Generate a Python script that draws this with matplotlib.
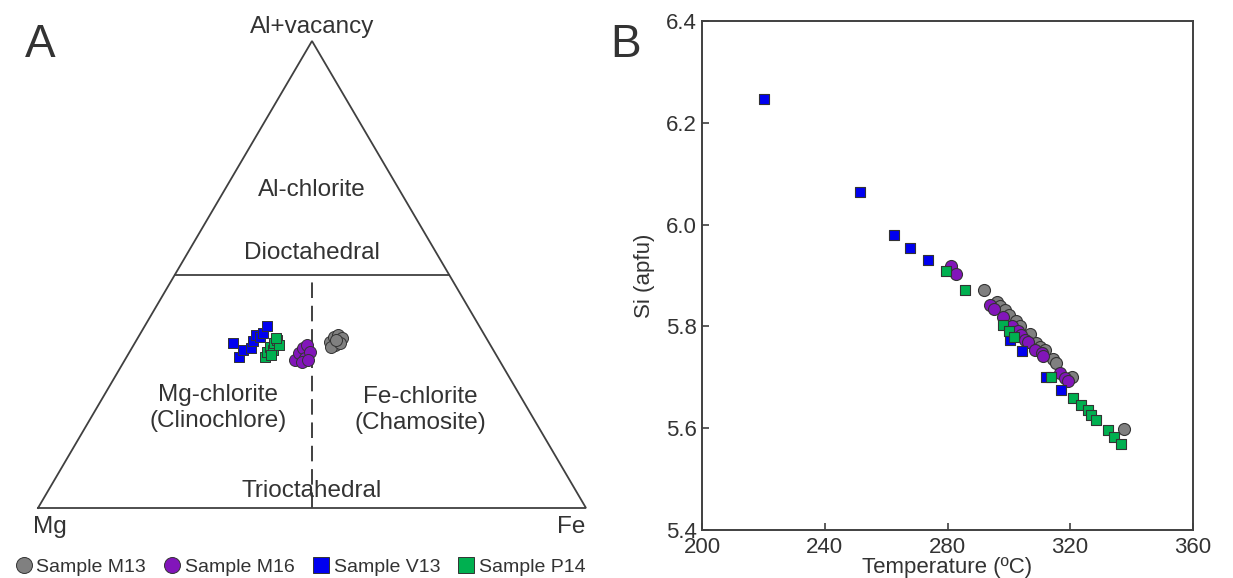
import matplotlib
matplotlib.use('Agg')
import matplotlib.pyplot as plt
from matplotlib.lines import Line2D

plt.rcParams['font.family'] = ['Liberation Sans', 'DejaVu Sans']

# ---------------- Panel A: ternary data (fractions Al+vacancy, Fe; Mg = 1 - Al - Fe)
m13_al = [0.356, 0.367, 0.370, 0.363, 0.349, 0.345, 0.353, 0.360]
m13_fe = [0.355, 0.356, 0.363, 0.373, 0.368, 0.363, 0.374, 0.364]
m16_al = [0.317, 0.331, 0.342, 0.349, 0.321, 0.335, 0.313, 0.317]
m16_fe = [0.311, 0.311, 0.313, 0.316, 0.327, 0.328, 0.325, 0.335]
v13_al = [0.353, 0.323, 0.338, 0.343, 0.358, 0.370, 0.367, 0.374, 0.389]
v13_fe = [0.179, 0.206, 0.205, 0.218, 0.214, 0.213, 0.222, 0.224, 0.223]
p14_al = [0.323, 0.333, 0.345, 0.339, 0.354, 0.360, 0.350, 0.328, 0.364]
p14_fe = [0.252, 0.252, 0.251, 0.259, 0.254, 0.257, 0.265, 0.262, 0.252]

# ---------------- Panel B: temperature (ºC) vs Si (apfu)
m13_t = [291.8, 296.0, 297.1, 298.7, 300.1, 302.5, 303.8, 306.8, 309.0, 310.3, 311.7, 314.4, 315.5, 320.7, 337.7]
m13_si = [5.871, 5.847, 5.840, 5.833, 5.823, 5.810, 5.801, 5.785, 5.768, 5.760, 5.753, 5.736, 5.729, 5.700, 5.599]
m16_t = [281.3, 282.9, 293.8, 295.1, 298.1, 300.9, 303.0, 304.1, 305.2, 306.3, 308.5, 310.7, 311.2, 316.6, 318.3, 319.3]
m16_si = [5.918, 5.903, 5.842, 5.834, 5.819, 5.801, 5.790, 5.783, 5.774, 5.770, 5.754, 5.747, 5.741, 5.708, 5.698, 5.692]
v13_t = [220.1, 251.4, 262.5, 267.8, 273.6, 300.3, 304.4, 312.3, 316.9]
v13_si = [6.247, 6.065, 5.980, 5.955, 5.931, 5.774, 5.751, 5.701, 5.675]
p14_t = [279.4, 285.7, 298.1, 300.1, 301.6, 313.9, 321.0, 323.7, 325.8, 326.8, 328.6, 332.4, 334.2, 336.7]
p14_si = [5.909, 5.872, 5.803, 5.790, 5.780, 5.700, 5.660, 5.646, 5.635, 5.625, 5.616, 5.596, 5.583, 5.569]

labels = ['Sample M13', 'Sample M16', 'Sample V13', 'Sample P14']
colors = ['#808080', '#8215BA', '#0000F0', '#00B050']
markers = ['o', 'o', 's', 's']
TXT = '#333333'
LINE = '#404040'

W, H = 1233, 578
fig = plt.figure(figsize=(W / 100, H / 100), dpi=100)

# ---------------- Panel A
axA = fig.add_axes([38 / W, (H - 508) / H, 548 / W, 467 / H])
axA.set_xlim(0, 1)
axA.set_ylim(0, 1)
axA.axis('off')

def tern(al, fe):
    x = [f + a / 2 for a, f in zip(al, fe)]
    return x, list(al)

axA.plot([0, 1, 0.5, 0], [0, 0, 1, 0], color=LINE, lw=1.3, clip_on=False, solid_joinstyle='miter')
axA.plot([0.25, 0.75], [0.5, 0.5], color=LINE, lw=1.3)
axA.plot([0.5, 0.5], [0, 0.5], color=LINE, lw=1.4, ls=(0, (8, 4)))

tern_sets = [(m13_al, m13_fe), (m16_al, m16_fe), (v13_al, v13_fe), (p14_al, p14_fe)]
for (al, fe), c, mk in zip(tern_sets, colors, markers):
    x, y = tern(al, fe)
    ms = 12 if mk == 'o' else 10.5
    axA.scatter(x, y, s=(ms * 0.72) ** 2, marker=mk, color=c, edgecolor='#333333',
                linewidth=0.7, zorder=3)

fsA = 17.5
axA.text(0.5, 1.03, 'Al+vacancy', ha='center', va='center', fontsize=fsA, color=TXT)
axA.text(0.5, 0.681, 'Al-chlorite', ha='center', va='center', fontsize=fsA, color=TXT)
axA.text(0.5, 0.546, 'Dioctahedral', ha='center', va='center', fontsize=fsA, color=TXT)
axA.text(0.3285, 0.214, 'Mg-chlorite\n(Clinochlore)', ha='center', va='center', fontsize=fsA,
         color=TXT, linespacing=1.2)
axA.text(0.697, 0.21, 'Fe-chlorite\n(Chamosite)', ha='center', va='center', fontsize=fsA,
         color=TXT, linespacing=1.2)
axA.text(0.5, 0.036, 'Trioctahedral', ha='center', va='center', fontsize=fsA, color=TXT)
axA.text(0.022, -0.04, 'Mg', ha='center', va='center', fontsize=fsA, color=TXT)
axA.text(0.973, -0.04, 'Fe', ha='center', va='center', fontsize=fsA, color=TXT)

fig.text(40 / W, 1 - 45 / H, 'A', ha='center', va='center', fontsize=33, color=TXT)
fig.text(626 / W, 1 - 45 / H, 'B', ha='center', va='center', fontsize=33, color=TXT)

# ---------------- Panel B
axB = fig.add_axes([702.3 / W, (H - 530) / H, 490.4 / W, 509 / H])
sets_b = [(m13_t, m13_si), (m16_t, m16_si), (v13_t, v13_si), (p14_t, p14_si)]
for (t, si), c, mk in zip(sets_b, colors, markers):
    ms = 12 if mk == 'o' else 10.5
    axB.scatter(t, si, s=(ms * 0.72) ** 2, marker=mk, color=c, edgecolor='#333333',
                linewidth=0.8, zorder=3)
axB.set_xlim(200, 360)
axB.set_ylim(5.4, 6.4)
axB.set_xticks([200, 240, 280, 320, 360])
axB.set_yticks([5.4, 5.6, 5.8, 6.0, 6.2, 6.4])
axB.set_yticklabels(['5.4', '5.6', '5.8', '6.0', '6.2', '6.4'])
axB.tick_params(direction='in', length=5, width=1.2, color=LINE, labelcolor=TXT,
                labelsize=16, pad=4)
axB.tick_params(axis='x', pad=5)
for sp in axB.spines.values():
    sp.set_color(LINE)
    sp.set_linewidth(1.4)
axB.set_xlabel('Temperature (ºC)', fontsize=16, color=TXT, labelpad=-1)
axB.set_ylabel('Si (apfu)', fontsize=16, color=TXT, labelpad=8)

# ---------------- Legend
handles = [Line2D([], [], ls='none', marker=mk, markersize=11.5, markerfacecolor=c,
                  markeredgecolor='#333333', markeredgewidth=0.7)
           for c, mk in zip(colors, markers)]
fig.legend(handles, labels, loc='center left', bbox_to_anchor=(12 / W, 1 - 567 / H),
           ncol=4, frameon=False, fontsize=14, handletextpad=0.05, columnspacing=0.75,
           handlelength=1.2, borderaxespad=0, borderpad=0, labelcolor=TXT)

fig.savefig('out.png', dpi=100, facecolor='white')
